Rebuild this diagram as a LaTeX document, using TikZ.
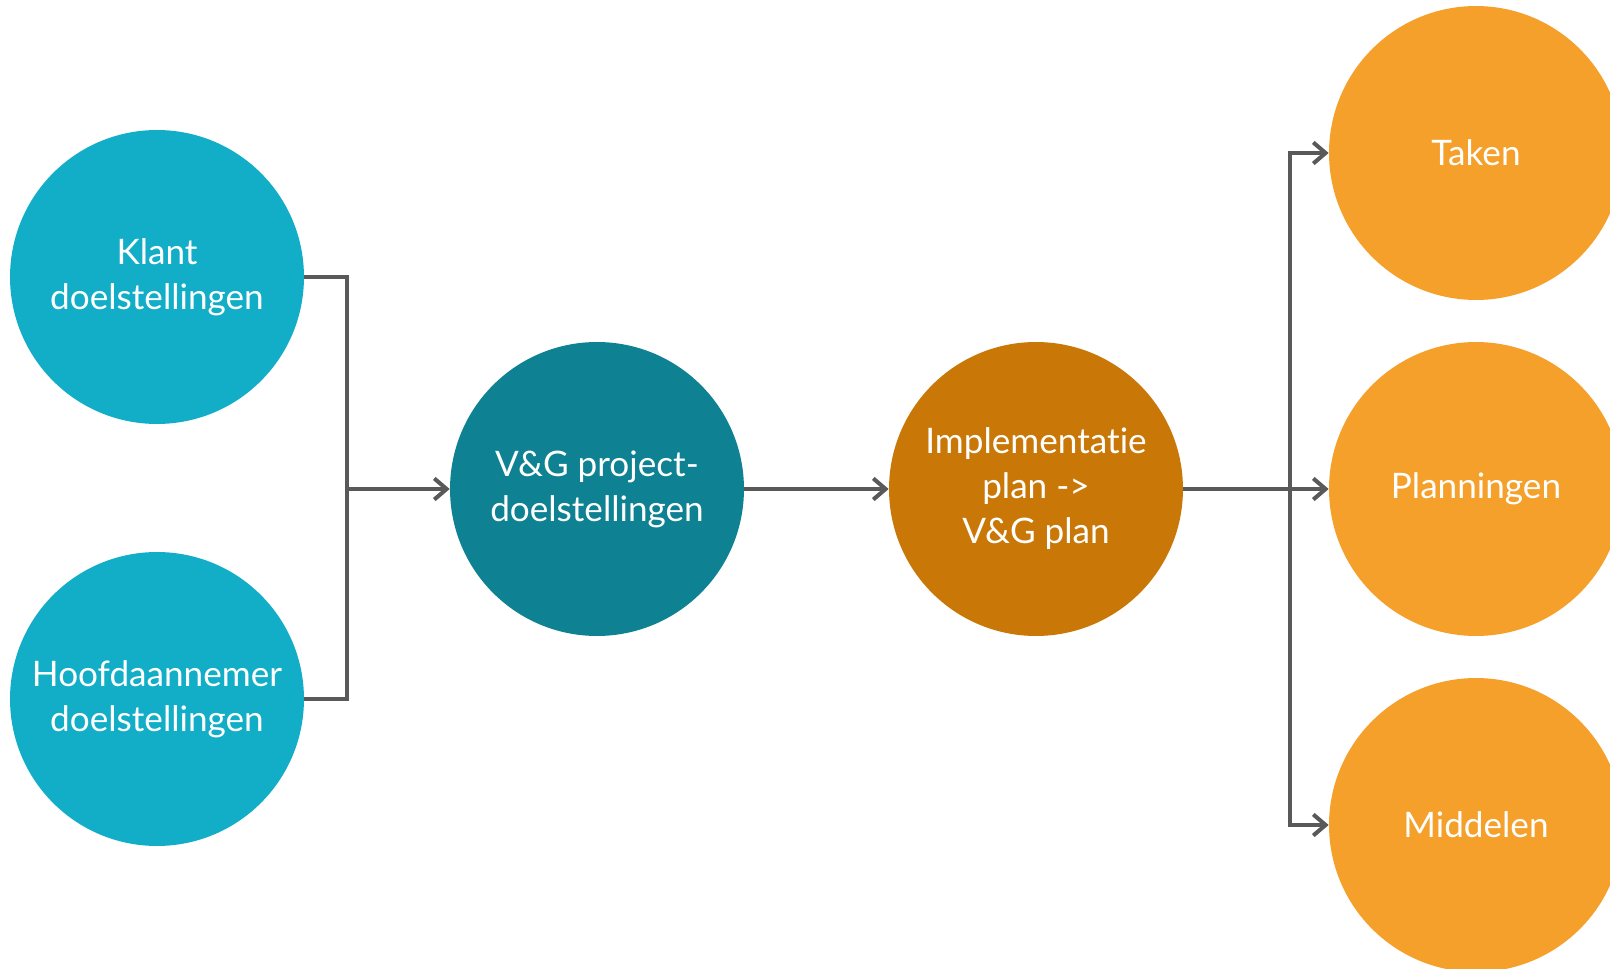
\documentclass[tikz,border=0pt]{standalone}
\usepackage{fontspec}
\setmainfont{Lato}[Ligatures=NoCommon]
\usepackage{xcolor}
\usetikzlibrary{arrows.meta}

\definecolor{klantblauw}{HTML}{12AEC8}
\definecolor{donkerblauw}{HTML}{0E8193}
\definecolor{donkeroranje}{HTML}{C97808}
\definecolor{oranje}{HTML}{F4A02A}
\definecolor{lijngrijs}{HTML}{595959}

\begin{document}
\begin{tikzpicture}[x=0.02cm, y=-0.02cm,
      every node/.style = {shape=circle, minimum size=5.88cm, inner sep=0pt,
        align=center, text=white, font=\fontsize{20}{25.6}\selectfont},
      verbinding/.style = {draw=lijngrijs, line width=2.3pt},
      pijl/.style = {verbinding, -{Straight Barb[length=7pt, width=12pt, line width=2.3pt]}}]
  \useasboundingbox (0,0) rectangle (1610,969);
  \begin{scope}
    \clip (0,0) rectangle (1610,969);
    \node[fill=klantblauw] (klant) at (157,277) {Klant\\doelstellingen};
    \node[fill=klantblauw] (hoofd) at (157,699) {Hoofdaannemer\\doelstellingen};
    \node[fill=donkerblauw] (project) at (597,489) {V\&G project-\\doelstellingen};
    \node[fill=donkeroranje] (impl) at (1036,489) {Implementatie\\plan ->\\V\&G plan};
    \node[fill=oranje] (taken) at (1476,153) {Taken};
    \node[fill=oranje] (plan) at (1476,489) {Planningen};
    \node[fill=oranje] (middel) at (1476,825) {Middelen};
  \end{scope}
  % links samenvoegen
  \coordinate (knoopL) at (347,489);
  \draw[verbinding] (klant.east) -| (knoopL) |- (hoofd.east);
  \draw[pijl] (knoopL) -- (project.west);
  \draw[pijl] (project.east) -- (impl.west);
  % rechts verdelen
  \coordinate (knoopR) at (1290,489);
  \draw[pijl] (impl.east) -- (plan.west);
  \draw[pijl] (knoopR) |- (taken.west);
  \draw[pijl] (knoopR) |- (middel.west);
\end{tikzpicture}
\end{document}
